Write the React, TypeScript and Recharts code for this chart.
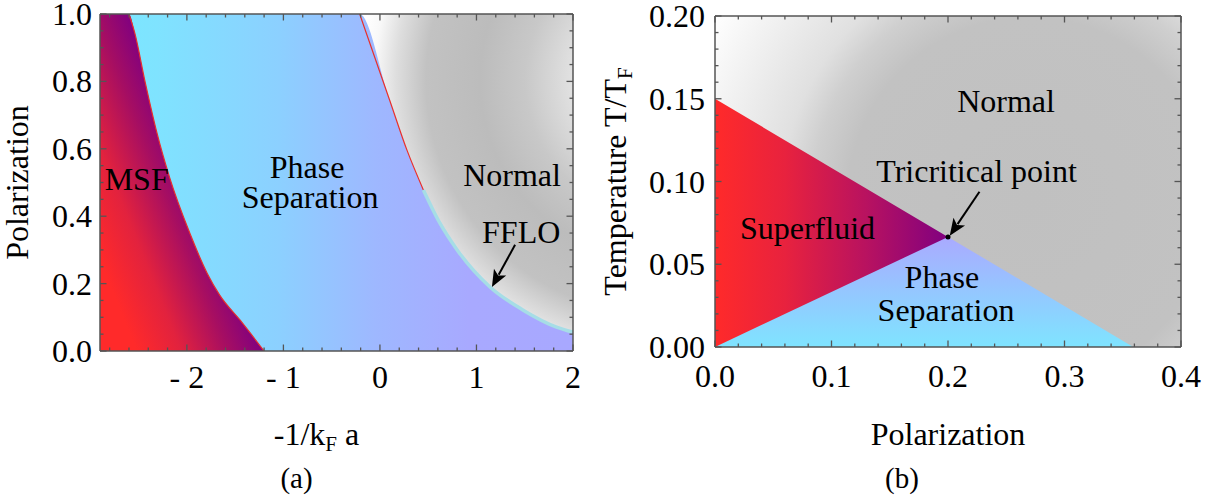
import React from 'react';
import {
  ComposedChart,
  Area,
  Line,
  XAxis,
  YAxis,
  Label,
  ReferenceDot,
  ReferenceLine,
} from 'recharts';

const FONT = '"Liberation Serif", "Times New Roman", Times, serif';
const FRAME = '#555555';
const FS = 32;

// ---------- panel (a): polarization vs -1/kFa ----------
// MSF / phase-separation boundary
const msfEdgeX = [-2.9, -2.6, -2.54, -2.43, -2.31, -2.18, -1.97, -1.79, -1.66, -1.45, -1.2];
const msfEdgeP = [1.0, 1.0, 0.944, 0.795, 0.647, 0.516, 0.35, 0.231, 0.166, 0.092, 0.0];
// phase-separation / normal boundary (FFLO sliver starts at x = 0.45)
const normEdgeX = [-2.9, -0.21, 0.1, 0.28, 0.45, 0.62, 0.8, 1.14, 1.48, 1.83, 2.0];
const normEdgeP = [1.0, 1.0, 0.745, 0.596, 0.478, 0.38, 0.3, 0.19, 0.122, 0.071, 0.056];
const ffloStartX = 0.45;
const ffloArrow = [{ x: 1.4, y: 0.315 }, { x: 1.16, y: 0.19 }];

const aXMajor = [-2, -1, 0, 1, 2];
const aXLabels = ['- 2', '- 1', '0', '1', '2'];
const aYMajor = [0, 0.2, 0.4, 0.6, 0.8, 1.0];
const aYLabels = ['0.0', '0.2', '0.4', '0.6', '0.8', '1.0'];

const aRegions = [
  { text: 'MSF', x: -2.52, y: 0.51 },
  { text: 'Phase', x: -0.755, y: 0.548 },
  { text: 'Separation', x: -0.724, y: 0.457 },
  { text: 'Normal', x: 1.369, y: 0.522 },
  { text: 'FFLO', x: 1.463, y: 0.353 },
];

// ---------- panel (b): temperature vs polarization ----------
const bTopEdgeX = [0, 0.4];
const bTopEdgeT = [0.2, 0.2];
const sfEdgeX = [0, 0.2];
const sfEdgeT = [0.15, 0.0665];
const psEdgeX = [0, 0.2, 0.359];
const psEdgeT = [0, 0.0665, 0];
const tricritical = { x: 0.2, t: 0.0665 };
const tcArrow = [{ x: 0.227, y: 0.0938 }, { x: 0.2015, y: 0.0672 }];

const bXMajor = [0, 0.1, 0.2, 0.3, 0.4];
const bXLabels = ['0.0', '0.1', '0.2', '0.3', '0.4'];
const bYMajor = [0, 0.05, 0.1, 0.15, 0.2];
const bYLabels = ['0.00', '0.05', '0.10', '0.15', '0.20'];

const bRegions = [
  { text: 'Normal', x: 0.2498, y: 0.1486 },
  { text: 'Tricritical point', x: 0.2245, y: 0.1063 },
  { text: 'Superfluid', x: 0.0794, y: 0.0719 },
  { text: 'Phase', x: 0.1948, y: 0.0424 },
  { text: 'Separation', x: 0.1983, y: 0.0223 },
];

const zip = (xs: number[], ys: number[], key: string) =>
  xs.map((x, i) => ({ x, [key]: ys[i] }));

const steps = (lo: number, hi: number, step: number) => {
  const out: number[] = [];
  for (let i = Math.ceil(lo / step - 1e-9); i * step <= hi + 1e-9; i++) out.push(+(i * step).toFixed(6));
  return out;
};

const msfTable = zip(msfEdgeX, msfEdgeP, 'p');
const normTable = zip(normEdgeX, normEdgeP, 'p');
const normRedTable = normTable.filter((d) => d.x > -2.9 && d.x <= ffloStartX);
const ffloTable = normTable.filter((d) => d.x >= ffloStartX);
const msfRedTable = msfTable.slice(1);

const bTopTable = zip(bTopEdgeX, bTopEdgeT, 't');
const sfTable = zip(sfEdgeX, sfEdgeT, 't');
const psTable = zip(psEdgeX, psEdgeT, 't');

type Side = 'bottom' | 'top' | 'left' | 'right';

function frameTick(side: Side, majors: number[], labels: string[] | null, gap: number) {
  return (props: any) => {
    const { x, y, payload } = props;
    const v = Number(payload.value);
    const k = majors.findIndex((m) => Math.abs(m - v) < 1e-6);
    const len = k >= 0 ? 6.5 : 3.5;
    let x2 = x;
    let y2 = y;
    if (side === 'bottom') y2 = y - len;
    if (side === 'top') y2 = y + len;
    if (side === 'left') x2 = x + len;
    if (side === 'right') x2 = x - len;
    let txt = null;
    if (labels && k >= 0) {
      txt =
        side === 'bottom' ? (
          <text x={x} y={y + gap} textAnchor="middle" fontFamily={FONT} fontSize={FS} fill="#000">
            {labels[k]}
          </text>
        ) : (
          <text x={x - gap} y={y + 11} textAnchor="end" fontFamily={FONT} fontSize={FS} fill="#000">
            {labels[k]}
          </text>
        );
    }
    return (
      <g>
        <line x1={x} y1={y} x2={x2} y2={y2} stroke={FRAME} strokeWidth={1.3} />
        {txt}
      </g>
    );
  };
}

const arrowShape = (props: any) => {
  const { x1, y1, x2, y2 } = props;
  const dx = x2 - x1;
  const dy = y2 - y1;
  const len = Math.hypot(dx, dy) || 1;
  const ux = dx / len;
  const uy = dy / len;
  const head = 17;
  const half = 7;
  const bx = x2 - ux * head;
  const by = y2 - uy * head;
  return (
    <g>
      <line x1={x1} y1={y1} x2={bx + ux * 3} y2={by + uy * 3} stroke="#000" strokeWidth={2} />
      <polygon
        points={`${x2},${y2} ${bx - uy * half},${by + ux * half} ${bx + ux * 4},${by + uy * 4} ${bx + uy * half},${by - ux * half}`}
        fill="#000"
      />
    </g>
  );
};

const regionLabel = (text: string) => ({
  value: text,
  position: 'center' as const,
  fill: '#000',
  fontSize: FS,
  fontFamily: FONT,
});

const axisLine = { stroke: FRAME, strokeWidth: 1.5 };

function PanelA() {
  const xTicks = steps(-2.9, 2, 0.2);
  const yTicks = steps(0, 1, 0.05);
  return (
    <ComposedChart width={600} height={502} margin={{ top: 13, right: 26, bottom: 150, left: 99 }}>
      <defs>
        <radialGradient id="aNormal" gradientUnits="userSpaceOnUse" cx="660" cy="80" r="300">
          <stop offset="0" stopColor="#f0f0f0" />
          <stop offset="0.3" stopColor="#e0e0e0" />
          <stop offset="0.45" stopColor="#c8c8c8" />
          <stop offset="0.6" stopColor="#bcbcbc" />
          <stop offset="0.78" stopColor="#c2c2c2" />
          <stop offset="0.88" stopColor="#dedede" />
          <stop offset="0.95" stopColor="#f8f8f8" />
          <stop offset="1" stopColor="#ffffff" />
        </radialGradient>
        <linearGradient id="aPS" x1="0" y1="0" x2="1" y2="0">
          <stop offset="0" stopColor="#79e9ff" />
          <stop offset="0.12" stopColor="#7fe3ff" />
          <stop offset="0.38" stopColor="#8cd0ff" />
          <stop offset="0.58" stopColor="#9eb8ff" />
          <stop offset="0.78" stopColor="#a8a9ff" />
          <stop offset="1" stopColor="#a8a8ff" />
        </linearGradient>
        <linearGradient id="aMSF" x1="0.1" y1="0.85" x2="0.565" y2="0.469">
          <stop offset="0" stopColor="#ff2a2a" />
          <stop offset="0.35" stopColor="#e2223e" />
          <stop offset="0.72" stopColor="#a60e62" />
          <stop offset="1" stopColor="#800080" />
        </linearGradient>
      </defs>

      <Area data={normTable} dataKey="p" type="monotone" baseValue={1} fill="url(#aNormal)" fillOpacity={1} stroke="none" isAnimationActive={false} />
      <Area data={normTable} dataKey="p" type="monotone" baseValue={0} fill="url(#aPS)" fillOpacity={1} stroke="none" isAnimationActive={false} />
      <Area data={msfTable} dataKey="p" type="monotone" baseValue={0} fill="url(#aMSF)" fillOpacity={1} stroke="none" isAnimationActive={false} />
      <Line data={msfRedTable} dataKey="p" type="monotone" stroke="#e8302c" strokeWidth={1.2} dot={false} isAnimationActive={false} />
      <Line data={normRedTable} dataKey="p" type="monotone" stroke="#e8302c" strokeWidth={1.2} dot={false} isAnimationActive={false} />
      <Line data={ffloTable} dataKey="p" type="monotone" stroke="#a6dde6" strokeWidth={3.5} dot={false} isAnimationActive={false} />

      {aRegions.map((r) => (
        <ReferenceDot key={r.text} x={r.x} y={r.y} r={0} fill="none" stroke="none" label={regionLabel(r.text)} />
      ))}
      <ReferenceLine segment={ffloArrow} shape={arrowShape} />

      <XAxis
        type="number"
        dataKey="x"
        domain={[-2.9, 2]}
        allowDataOverflow
        ticks={xTicks}
        interval={0}
        height={1}
        tickSize={0}
        tickMargin={0}
        tickLine={false}
        axisLine={axisLine}
        tick={frameTick('bottom', aXMajor, aXLabels, 37)}
      >
        <Label
          content={({ viewBox }: any) => {
            const cx = viewBox.x + viewBox.width / 2;
            return (
              <g fontFamily={FONT} fill="#000">
                <text x={cx - 20} y={viewBox.y + 94} textAnchor="middle" fontSize={FS}>
                  -1/k<tspan fontSize={21} dy={6}>F</tspan>
                  <tspan dy={-6}> a</tspan>
                </text>
                <text x={cx - 40} y={viewBox.y + 137} textAnchor="middle" fontSize={29}>
                  (a)
                </text>
              </g>
            );
          }}
        />
      </XAxis>
      <XAxis
        xAxisId="top"
        orientation="top"
        type="number"
        dataKey="x"
        domain={[-2.9, 2]}
        allowDataOverflow
        ticks={xTicks}
        interval={0}
        height={1}
        tickSize={0}
        tickMargin={0}
        tickLine={false}
        axisLine={axisLine}
        tick={frameTick('top', aXMajor, null, 0)}
      />
      <YAxis
        type="number"
        dataKey="p"
        domain={[0, 1]}
        allowDataOverflow
        ticks={yTicks}
        interval={0}
        width={1}
        tickSize={0}
        tickMargin={0}
        tickLine={false}
        axisLine={axisLine}
        tick={frameTick('left', aYMajor, aYLabels, 8)}
      >
        <Label
          content={({ viewBox }: any) => {
            const cy = viewBox.y + viewBox.height / 2;
            return (
              <text x={28} y={cy} transform={`rotate(-90, 28, ${cy})`} textAnchor="middle" fontFamily={FONT} fontSize={FS} fill="#000">
                Polarization
              </text>
            );
          }}
        />
      </YAxis>
      <YAxis
        yAxisId="right"
        orientation="right"
        type="number"
        dataKey="p"
        domain={[0, 1]}
        allowDataOverflow
        ticks={yTicks}
        interval={0}
        width={1}
        tickSize={0}
        tickMargin={0}
        tickLine={false}
        axisLine={axisLine}
        tick={frameTick('right', aYMajor, null, 0)}
      />
    </ComposedChart>
  );
}

// panel (b) svg starts 12px left of the page midline so the rotated title has room
const B_SHIFT = 12;

function PanelB() {
  const xTicks = steps(0, 0.4, 0.02);
  const yTicks = steps(0, 0.2, 0.01);
  return (
    <ComposedChart width={612 + B_SHIFT} height={502} margin={{ top: 15, right: 30, bottom: 154, left: 114 + B_SHIFT }}>
      <defs>
        <radialGradient id="bNormal" gradientUnits="userSpaceOnUse" cx={430 + B_SHIFT} cy="200" r="365">
          <stop offset="0" stopColor="#c0c0c0" />
          <stop offset="0.5" stopColor="#c2c2c2" />
          <stop offset="0.6" stopColor="#cfcfcf" />
          <stop offset="0.68" stopColor="#e0e0e0" />
          <stop offset="0.9" stopColor="#f5f5f5" />
          <stop offset="1" stopColor="#ffffff" />
        </radialGradient>
        <linearGradient id="bSF" x1="0" y1="0" x2="1" y2="0">
          <stop offset="0" stopColor="#ff2a2a" />
          <stop offset="0.3" stopColor="#e8223e" />
          <stop offset="0.65" stopColor="#b81260" />
          <stop offset="1" stopColor="#800080" />
        </linearGradient>
        <linearGradient id="bPS" x1="0" y1="1" x2="0" y2="0">
          <stop offset="0" stopColor="#7fe4ff" />
          <stop offset="1" stopColor="#aaaaff" />
        </linearGradient>
      </defs>

      <Area data={bTopTable} dataKey="t" type="linear" baseValue={0} fill="url(#bNormal)" fillOpacity={1} stroke="none" isAnimationActive={false} />
      <Area data={sfTable} dataKey="t" type="linear" baseValue={0} fill="url(#bSF)" fillOpacity={1} stroke="none" isAnimationActive={false} />
      <Area data={psTable} dataKey="t" type="linear" baseValue={0} fill="url(#bPS)" fillOpacity={1} stroke="none" isAnimationActive={false} />

      {bRegions.map((r) => (
        <ReferenceDot key={r.text} x={r.x} y={r.y} r={0} fill="none" stroke="none" label={regionLabel(r.text)} />
      ))}
      <ReferenceDot x={tricritical.x} y={tricritical.t} r={2.5} fill="#000" stroke="none" />
      <ReferenceLine segment={tcArrow} shape={arrowShape} />

      <XAxis
        type="number"
        dataKey="x"
        domain={[0, 0.4]}
        allowDataOverflow
        ticks={xTicks}
        interval={0}
        height={1}
        tickSize={0}
        tickMargin={0}
        tickLine={false}
        axisLine={axisLine}
        tick={frameTick('bottom', bXMajor, bXLabels, 40)}
      >
        <Label
          content={({ viewBox }: any) => {
            const cx = viewBox.x + viewBox.width / 2;
            return (
              <g fontFamily={FONT} fill="#000">
                <text x={cx} y={viewBox.y + 98} textAnchor="middle" fontSize={FS}>
                  Polarization
                </text>
                <text x={cx - 46} y={viewBox.y + 141} textAnchor="middle" fontSize={29}>
                  (b)
                </text>
              </g>
            );
          }}
        />
      </XAxis>
      <XAxis
        xAxisId="top"
        orientation="top"
        type="number"
        dataKey="x"
        domain={[0, 0.4]}
        allowDataOverflow
        ticks={xTicks}
        interval={0}
        height={1}
        tickSize={0}
        tickMargin={0}
        tickLine={false}
        axisLine={axisLine}
        tick={frameTick('top', bXMajor, null, 0)}
      />
      <YAxis
        type="number"
        dataKey="t"
        domain={[0, 0.2]}
        allowDataOverflow
        ticks={yTicks}
        interval={0}
        width={1}
        tickSize={0}
        tickMargin={0}
        tickLine={false}
        axisLine={axisLine}
        tick={frameTick('left', bYMajor, bYLabels, 10)}
      >
        <Label
          content={({ viewBox }: any) => {
            const cy = viewBox.y + viewBox.height / 2;
            const tx = 26 + B_SHIFT;
            return (
              <text x={tx} y={cy} transform={`rotate(-90, ${tx}, ${cy})`} textAnchor="middle" fontFamily={FONT} fontSize={FS} fill="#000">
                Temperature T/T<tspan fontSize={21} dy={6}>F</tspan>
              </text>
            );
          }}
        />
      </YAxis>
      <YAxis
        yAxisId="right"
        orientation="right"
        type="number"
        dataKey="t"
        domain={[0, 0.2]}
        allowDataOverflow
        ticks={yTicks}
        interval={0}
        width={1}
        tickSize={0}
        tickMargin={0}
        tickLine={false}
        axisLine={axisLine}
        tick={frameTick('right', bYMajor, null, 0)}
      />
    </ComposedChart>
  );
}

export default function App() {
  return (
    <div style={{ position: 'absolute', left: 0, top: 0, width: 1212, height: 502, background: '#fff', fontFamily: FONT }}>
      <div style={{ position: 'absolute', left: 0, top: 0 }}>
        <PanelA />
      </div>
      <div style={{ position: 'absolute', left: 600 - B_SHIFT, top: 0 }}>
        <PanelB />
      </div>
    </div>
  );
}
